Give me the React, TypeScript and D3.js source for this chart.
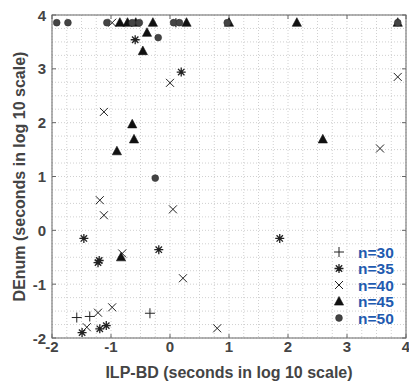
import React from "react";
import * as d3 from "d3";

// values (log10 seconds); 3.857 = timeout row
const TOP = 3.857;
const n30 = [
  [-1.58, -1.62],
  [-1.36, -1.6],
  [-0.34, -1.54],
];
const n35 = [
  [-0.59, 3.54],
  [0.19, 2.94],
  [0.1, TOP],
  [-1.46, -0.15],
  [-1.22, -0.6],
  [-1.2, -0.56],
  [-0.19, -0.36],
  [1.86, -0.15],
  [-1.49, -1.9],
  [-1.19, -1.83],
  [-1.08, -1.77],
];
const n40 = [
  [-0.98, TOP],
  [0.0, 2.74],
  [-1.12, 2.2],
  [3.86, 2.85],
  [3.56, 1.52],
  [-1.19, 0.56],
  [-1.12, 0.28],
  [0.05, 0.39],
  [-0.81, -0.43],
  [0.22, -0.89],
  [-0.98, -1.43],
  [-1.22, -1.53],
  [-1.41, -1.8],
  [0.8, -1.82],
];
const n45 = [
  [-0.85, TOP],
  [-0.72, TOP],
  [-0.58, TOP],
  [-0.29, TOP],
  [0.28, TOP],
  [1.0, TOP],
  [2.15, TOP],
  [3.86, TOP],
  [-0.39, 3.67],
  [-0.46, 3.33],
  [-0.64, 1.97],
  [-0.61, 1.69],
  [-0.9, 1.47],
  [2.59, 1.69],
  [-0.83, -0.5],
];
const n50 = [
  [-1.92, TOP],
  [-1.73, TOP],
  [-1.07, TOP],
  [-0.64, TOP],
  [-0.52, TOP],
  [0.06, TOP],
  [0.16, TOP],
  [0.97, TOP],
  [3.86, TOP],
  [-0.2, 3.58],
  [-0.25, 0.97],
];
const xTicks = [-2, -1, 0, 1, 2, 3, 4];
const yTicks = [-2, -1, 0, 1, 2, 3, 4];
const legendLabels = ["n=30", "n=35", "n=40", "n=45", "n=50"];

const ink = "#222";

const Marker = ({ kind, cx, cy }: { kind: string; cx: number; cy: number }) => {
  const t = `translate(${cx},${cy})`;
  if (kind === "plus")
    return <path transform={t} d="M-5,0H5M0,-5V5" stroke={ink} strokeWidth={1} fill="none" />;
  if (kind === "x")
    return <path transform={t} d="M-4,-4L4,4M-4,4L4,-4" stroke={ink} strokeWidth={1} fill="none" />;
  if (kind === "star")
    return (
      <path
        transform={t}
        d="M-4.5,0H4.5M0,-4.5V4.5M-3.2,-3.2L3.2,3.2M-3.2,3.2L3.2,-3.2"
        stroke={ink}
        strokeWidth={1.3}
        fill="none"
      />
    );
  if (kind === "tri")
    return <path transform={t} d="M0,-5L4.6,3.6H-4.6Z" fill="#111" stroke="#111" strokeWidth={0.6} />;
  return <circle cx={cx} cy={cy} r={3.4} fill="#444" stroke="#333" strokeWidth={0.6} />;
};

export default function App() {
  const W = 409,
    H = 383;
  const left = 52,
    right = 406,
    top = 15,
    bottom = 338;

  const x = d3.scaleLinear().domain([-2, 4]).range([left, right]);
  const y = d3.scaleLinear().domain([-2, 4]).range([bottom, top]);
  const grid = d3.range(-2, 4.001, 0.25);

  const series = [
    { kind: "plus", data: n30 },
    { kind: "star", data: n35 },
    { kind: "x", data: n40 },
    { kind: "tri", data: n45 },
    { kind: "circle", data: n50 },
  ];

  const font = "'Liberation Sans', Arial, Helvetica, sans-serif";
  const axisColor = "#666";

  return (
    <svg
      width={W}
      height={H}
      style={{ position: "absolute", left: 0, top: 0, background: "#fff" }}
      fontFamily={font}
    >
      <rect x={0} y={0} width={W} height={H} fill="#fff" />
      {/* grid */}
      {grid.map((g) => (
        <g key={"g" + g}>
          <line x1={x(g)} x2={x(g)} y1={top} y2={bottom} stroke="#c4c4c4" strokeWidth={0.8} strokeDasharray="1,2" />
          <line x1={left} x2={right} y1={y(g)} y2={y(g)} stroke="#c4c4c4" strokeWidth={0.8} strokeDasharray="1,2" />
        </g>
      ))}
      {/* frame */}
      <rect x={left} y={top} width={right - left} height={bottom - top} fill="none" stroke={axisColor} strokeWidth={1} />
      {xTicks.map((t) => (
        <g key={"xt" + t}>
          <line x1={x(t)} x2={x(t)} y1={bottom} y2={bottom - 4} stroke={axisColor} />
          <line x1={x(t)} x2={x(t)} y1={top} y2={top + 4} stroke={axisColor} />
          <text x={x(t)} y={352} textAnchor="middle" fontSize={15} fontWeight="bold" fill="#444">
            {t}
          </text>
        </g>
      ))}
      {yTicks.map((t) => (
        <g key={"yt" + t}>
          <line x1={left} x2={left + 4} y1={y(t)} y2={y(t)} stroke={axisColor} />
          <line x1={right} x2={right - 4} y1={y(t)} y2={y(t)} stroke={axisColor} />
          <text x={46} y={y(t) + 5.5} textAnchor="end" fontSize={15} fontWeight="bold" fill="#444">
            {t}
          </text>
        </g>
      ))}
      {/* points */}
      {series.map((s) =>
        s.data.map((d, i) => <Marker key={s.kind + i} kind={s.kind} cx={x(d[0])} cy={y(d[1])} />)
      )}
      {/* legend */}
      {series.map((s, i) => (
        <g key={"lg" + i}>
          <Marker kind={s.kind} cx={339} cy={252 + i * 16.5} />
          <text x={358} y={252 + i * 16.5 + 5.5} fontSize={15.5} fontWeight="bold" fill="#1f5bb0">
            {legendLabels[i]}
          </text>
        </g>
      ))}
      {/* axis titles */}
      <text x={(left + right) / 2} y={378} textAnchor="middle" fontSize={16} fontWeight="bold" fill="#444">
        ILP-BD (seconds in log 10 scale)
      </text>
      <text
        transform={`translate(25,${(top + bottom) / 2}) rotate(-90)`}
        textAnchor="middle"
        fontSize={16}
        fontWeight="bold"
        fill="#444"
      >
        DEnum (seconds in log 10 scale)
      </text>
    </svg>
  );
}
